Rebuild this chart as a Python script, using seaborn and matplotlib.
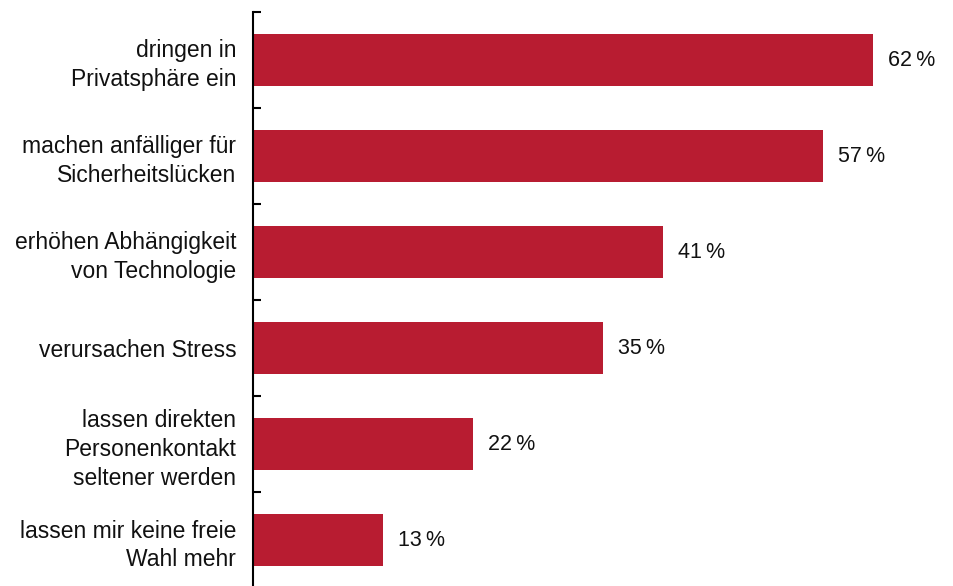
import matplotlib
matplotlib.use("Agg")
import matplotlib.pyplot as plt
import seaborn as sns
import pandas as pd
import numpy as np

categories = [
    "dringen in\nPrivatsphäre ein",
    "machen anfälliger für\nSicherheitslücken",
    "erhöhen Abhängigkeit\nvon Technologie",
    "verursachen Stress",
    "lassen direkten\nPersonenkontakt\nseltener werden",
    "lassen mir keine freie\nWahl mehr",
]
values = [62, 57, 41, 35, 22, 13]
bar_color = "#B81C31"

sns.set_theme(style="white")
plt.rcParams["font.family"] = ["Liberation Sans", "DejaVu Sans"]

df = pd.DataFrame({"cat": categories, "val": values})

W, H = 954, 586
fig = plt.figure(figsize=(W / 100, H / 100), dpi=100)
ax = fig.add_axes([253 / W, -2 / H, 700 / W, 576 / H])

sns.barplot(data=df, y="cat", x="val", orient="h", color=bar_color,
            saturation=1, width=0.55, linewidth=0, ax=ax)

ax.set_xlim(0, 70)
ax.set_ylim(len(categories) - 0.5, -0.5)
ax.set_xlabel("")
ax.set_ylabel("")
ax.set_xticks([])

for s in ["top", "right", "bottom"]:
    ax.spines[s].set_visible(False)
ax.spines["left"].set_color("black")
ax.spines["left"].set_linewidth(1.5)

ax.set_yticks(np.arange(len(categories)))
ax.set_yticklabels(categories, fontsize=16.5, color="#111111",
                   linespacing=1.33, ha="right")
ax.tick_params(axis="y", which="major", left=True, length=0, pad=12)
ax.set_yticks(np.arange(len(categories) + 1) - 0.5, minor=True)
ax.tick_params(axis="y", which="minor", left=True, direction="in",
               length=5.5, width=1.5, color="black")

labels = [f"{v}\u2009%" for v in values]
ax.bar_label(ax.containers[0], labels=labels, padding=11,
             fontsize=15.5, color="#111111")

fig.savefig("out.png", dpi=100)
